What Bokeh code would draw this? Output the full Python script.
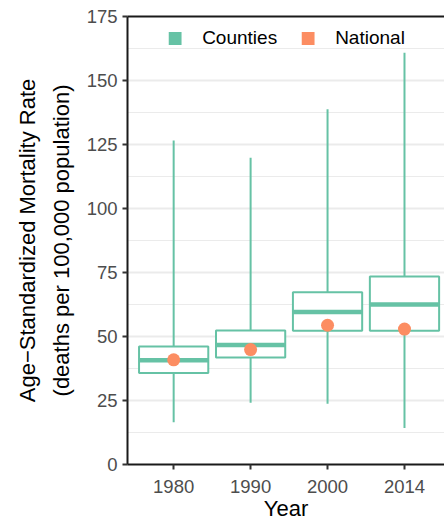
from bokeh.plotting import figure
from bokeh.models import Range1d, FixedTicker, Legend, LegendItem, LinearAxis, ColumnDataSource
from bokeh.embed import file_html
from bokeh.resources import INLINE

# ---- data ----
years = ["1980", "1990", "2000", "2014"]
whisker_low = [16.5, 24.1, 23.7, 14.3]
q1 = [35.7, 41.8, 52.2, 52.2]
median = [40.7, 46.7, 59.6, 62.5]
q3 = [46.1, 52.3, 67.3, 73.4]
whisker_high = [126.6, 119.8, 138.8, 160.8]
national = [40.9, 44.9, 54.4, 52.9]
y_ticks = [0, 25, 50, 75, 100, 125, 150, 175]

GREEN = "#66C2A5"
ORANGE = "#FC8D62"
FONT = "Liberation Sans"
BOX_W = 0.9

xpos = [i + 1 for i in range(len(years))]
src = ColumnDataSource(dict(
    x=xpos,
    left=[x - BOX_W / 2 for x in xpos],
    right=[x + BOX_W / 2 for x in xpos],
    low=whisker_low, q1=q1, med=median, q3=q3, high=whisker_high, nat=national,
))

p = figure(width=444, height=523, output_backend="svg", toolbar_location=None,
           x_range=Range1d(0.4, 4.52), y_range=Range1d(0, 175),
           min_border_left=127, min_border_right=0, min_border_top=16, min_border_bottom=59)
p.outline_line_color = None
p.background_fill_color = "white"
p.border_fill_color = "white"

# whiskers
p.segment(x0="x", y0="low", x1="x", y1="high", source=src, line_color=GREEN, line_width=2)
# boxes
p.quad(left="left", right="right", bottom="q1", top="q3", source=src,
       fill_color="white", line_color=GREEN, line_width=2)
# medians
p.segment(x0="left", y0="med", x1="right", y1="med", source=src, line_color=GREEN, line_width=4.5)
# national points
p.scatter(x="x", y="nat", source=src, size=13, fill_color=ORANGE, line_color=None)

# legend proxies (hidden renderers; only their legend swatches are shown)
r_c = p.quad(left="left", right="right", bottom="q1", top="q3", source=src,
             fill_color=GREEN, line_color=None, visible=False)
r_n = p.quad(left="left", right="right", bottom="q1", top="q3", source=src,
             fill_color=ORANGE, line_color=None, visible=False)
legend = Legend(items=[LegendItem(label="Counties", renderers=[r_c]),
                       LegendItem(label="National", renderers=[r_n])],
                location="top_center", orientation="horizontal",
                glyph_width=16, glyph_height=16, label_standoff=20, spacing=22,
                margin=11, padding=4, border_line_color=None, background_fill_alpha=0,
                inactive_fill_alpha=0,
                label_text_font=FONT, label_text_font_size="19px", label_text_color="black")
p.add_layout(legend, "center")

# axes
p.xaxis.ticker = FixedTicker(ticks=xpos)
p.xaxis.major_label_overrides = {x: y for x, y in zip(xpos, years)}
p.yaxis.ticker = FixedTicker(ticks=y_ticks, minor_ticks=[t + 12.5 for t in y_ticks[:-1]])
p.xaxis.axis_label = "Year"
p.yaxis.axis_label = "Age\u2212Standardized Mortality Rate\n(deaths per 100,000 population)"
for ax in (p.xaxis, p.yaxis):
    ax.axis_line_color = "#1a1a1a"
    ax.axis_line_width = 2
    ax.major_tick_line_color = "#333333"
    ax.major_tick_line_width = 2
    ax.major_tick_in = 0
    ax.major_tick_out = 5
    ax.minor_tick_line_color = None
    ax.major_label_text_font = FONT
    ax.major_label_text_font_size = "18.5px"
    ax.major_label_text_color = "#4D4D4D"
    ax.major_label_standoff = 5
    ax.axis_label_text_font = FONT
    ax.axis_label_text_font_size = "22px"
    ax.axis_label_text_font_style = "normal"
    ax.axis_label_text_color = "black"
p.yaxis.axis_label_text_line_height = 1.35
p.xaxis.axis_label_text_line_height = 1.0
p.xaxis.major_label_standoff = 10
p.xaxis.axis_label_standoff = 0
p.yaxis.axis_label_standoff = 10

top_axis = LinearAxis(ticker=FixedTicker(ticks=[]), axis_line_color="#1a1a1a", axis_line_width=2,
                      major_tick_line_color=None, minor_tick_line_color=None,
                      major_label_text_font_size="0px", major_label_standoff=0,
                      major_tick_out=0, major_tick_in=0)
p.add_layout(top_axis, "above")

p.xgrid.grid_line_color = None
p.ygrid.grid_line_color = "#EBEBEB"
p.ygrid.grid_line_width = 2
p.ygrid.minor_grid_line_color = "#EBEBEB"
p.ygrid.minor_grid_line_width = 1.2

open("out.html", "w").write(file_html(p, INLINE))
